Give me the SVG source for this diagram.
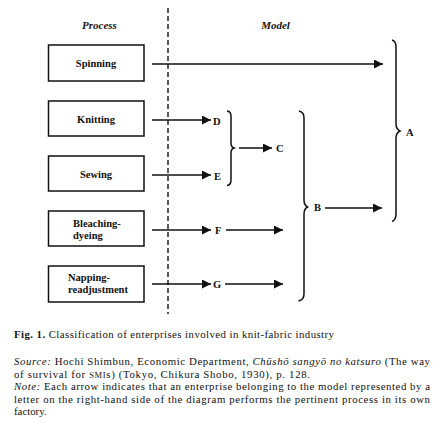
<svg xmlns="http://www.w3.org/2000/svg" width="445" height="433" viewBox="0 0 445 433">
<style>
.box{fill:#fff;stroke:#111;stroke-width:1.5}
.lbl{font-family:"Liberation Serif","Times New Roman","DejaVu Serif",serif;font-size:10.5px;font-weight:bold;fill:#111}
.ltr{font-family:"Liberation Serif","Times New Roman","DejaVu Serif",serif;font-size:10.5px;font-weight:bold;fill:#111}
.hdr{font-family:"Liberation Serif","Times New Roman","DejaVu Serif",serif;font-size:11px;font-weight:bold;font-style:italic;fill:#111}
.cap{font-family:"Liberation Serif","Times New Roman","DejaVu Serif",serif;font-size:10.8px;fill:#111}
.ln{stroke:#111;stroke-width:1.4;fill:none}
.br{stroke:#111;stroke-width:1.5;fill:none}
</style>
<defs>
<marker id="ah" viewBox="0 0 10 10" refX="10" refY="5" markerWidth="10" markerHeight="9" markerUnits="userSpaceOnUse" orient="auto">
<path d="M0,0 L10,5 L0,10 Z" fill="#111"/>
</marker>
</defs>
<rect width="445" height="433" fill="#fff"/>
<line x1="168" y1="8" x2="168" y2="314" stroke="#111" stroke-width="1.4" stroke-dasharray="5,3"/>
<text class="hdr" x="99.5" y="29" text-anchor="middle">Process</text>
<text class="hdr" x="275.5" y="29" text-anchor="middle">Model</text>
<g id="spinning"><rect class="box" x="48.5" y="45" width="95.5" height="36"/><text class="lbl" x="96" y="67" text-anchor="middle">Spinning</text></g>
<g id="knitting"><rect class="box" x="48.5" y="101" width="95.5" height="35"/><text class="lbl" x="96" y="123" text-anchor="middle">Knitting</text></g>
<g id="sewing"><rect class="box" x="48.5" y="156" width="95.5" height="35"/><text class="lbl" x="96" y="178" text-anchor="middle">Sewing</text></g>
<g id="bleaching"><rect class="box" x="48.5" y="211" width="95.5" height="35"/><text class="lbl" x="73" y="227">Bleaching-</text><text class="lbl" x="73" y="239">dyeing</text></g>
<g id="napping"><rect class="box" x="48.5" y="266" width="95.5" height="36"/><text class="lbl" x="68" y="281">Napping-</text><text class="lbl" x="68" y="293">readjustment</text></g>
<g id="D"><text class="ltr" x="213" y="125">D</text></g>
<g id="E"><text class="ltr" x="214" y="180">E</text></g>
<g id="F"><text class="ltr" x="215" y="234">F</text></g>
<g id="G"><text class="ltr" x="213" y="288">G</text></g>
<g id="C"><text class="ltr" x="276" y="152">C</text></g>
<g id="B"><text class="ltr" x="314" y="211">B</text></g>
<g id="A"><text class="ltr" x="406" y="136">A</text></g>
<g id="connectors">
<line class="ln" x1="152" y1="64" x2="383" y2="64" marker-end="url(#ah)"/>
<line class="ln" x1="152" y1="120" x2="211" y2="120" marker-end="url(#ah)"/>
<line class="ln" x1="152" y1="175" x2="211" y2="175" marker-end="url(#ah)"/>
<line class="ln" x1="152" y1="230" x2="211" y2="230" marker-end="url(#ah)"/>
<line class="ln" x1="152" y1="284" x2="211" y2="284" marker-end="url(#ah)"/>
<line class="ln" x1="239" y1="148" x2="272" y2="148" marker-end="url(#ah)"/>
<line class="ln" x1="226" y1="230" x2="283" y2="230" marker-end="url(#ah)"/>
<line class="ln" x1="225" y1="284" x2="283" y2="284" marker-end="url(#ah)"/>
<line class="ln" x1="325" y1="208" x2="382" y2="208" marker-end="url(#ah)"/>
<path class="br" d="M227,111 Q231,111.5 231,116 L231,143 Q231,147 234,148 Q231,149 231,153 L231,180 Q231,185 227,185.5"/>
<path class="br" d="M299,111 Q304,112 304,118 L304,200 Q304,205 307.5,207 Q304,209 304,214 L304,294 Q304,300 298.5,301"/>
<path class="br" d="M392,40 Q396,41 396,47 L396,124 Q396,129 400,131 Q396,133 396,138 L396,214 Q396,220 392,221.5"/>
</g>
<g id="caption">
<text class="cap" x="14" y="338" textLength="320" lengthAdjust="spacing"><tspan font-weight="bold">Fig. 1.</tspan> Classification of enterprises involved in knit-fabric industry</text>
<text class="cap" x="14" y="365" textLength="416" lengthAdjust="spacing"><tspan font-style="italic">Source:</tspan>  Hochi Shimbun, Economic Department, <tspan font-style="italic">Chūshō sangyō no katsuro</tspan> (The way</text>
<text class="cap" x="14" y="377.5" textLength="296" lengthAdjust="spacing">of survival for <tspan font-size="8.5px">SMI</tspan>s) (Tokyo, Chikura Shobo, 1930), p. 128.</text>
<text class="cap" x="14" y="390" textLength="416" lengthAdjust="spacing"><tspan font-style="italic">Note:</tspan>  Each arrow indicates that an enterprise belonging to the model represented by a</text>
<text class="cap" x="14" y="402.5" textLength="416" lengthAdjust="spacing">letter on the right-hand side of the diagram performs the pertinent process in its own</text>
<text class="cap" x="14" y="415">factory.</text>
</g>
</svg>
